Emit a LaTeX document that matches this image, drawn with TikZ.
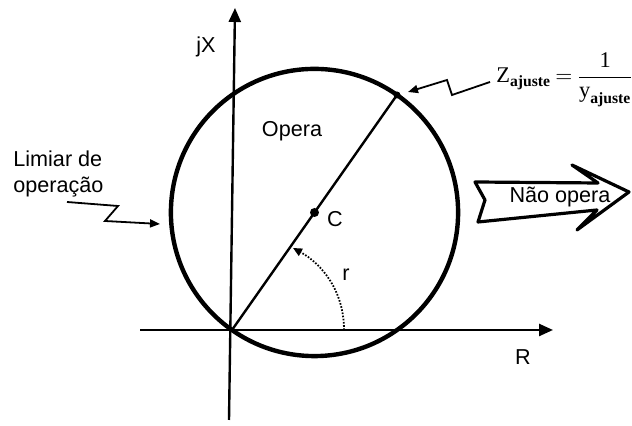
\documentclass[tikz,border=0pt]{standalone}
\usepackage{amsmath}
\usepackage{fontspec}
\setmainfont{Liberation Sans}
\newfontfamily\tmsfont{Liberation Serif}
\usetikzlibrary{
  arrows.meta,
  calc
}
\newcommand{\tms}[1]{\text{\tmsfont #1}}
\tikzset{
  axisline/.style={-{Triangle[length=7pt, width=6pt]}, line width=1.2pt},
  relaycircle/.style={line width=2.2pt},
  diamline/.style={line width=1.2pt},
  zigarrow/.style={-{Triangle[length=5pt, width=4pt]}, line width=0.9pt, line join=miter},
  dotarrow/.style={-{Triangle[length=4.5pt, width=4pt]}, line width=0.9pt, dash pattern=on 0.8pt off 0.8pt},
  notearrow/.style={line width=1.6pt, line join=round},
  dotmark/.style={circle, fill, inner sep=0pt, minimum size=4.5pt},
  lbl/.style={font=\fontsize{10.8}{13}\selectfont, inner sep=1pt},
  formula/.style={font=\fontsize{11.2}{13}\selectfont, inner sep=1pt}
}
\begin{document}
\begin{tikzpicture}[x=0.5pt, y=0.5pt]
  \useasboundingbox (0,0) rectangle (632,426);
  % eixos R e jX
  \coordinate (O) at (232,96);
  \coordinate (xl) at (140,96);
  \coordinate (xr) at (553,96);
  \coordinate (yb) at (229,6);
  \coordinate (yt) at (235,418);
  \draw[axisline] (xl) -- (xr);
  \draw[axisline] (yb) -- (yt);
  \node[lbl] (lR) at (523,69) {R};
  \node[lbl] (ljX) at (206,379) {jX};
  % circulo de operacao
  \coordinate (C) at (314.5,213.5);
  \coordinate (P) at (397,331);
  \draw[relaycircle] (C) circle[radius=143.6];
  \draw[diamline] (O) -- (P);
  \node[dotmark] (c) at (C) {};
  \node[dotmark, minimum size=3.5pt] (p) at (P) {};
  \node[lbl] (lC) at (335,207) {C};
  \node[lbl] (lOpera) at (292,295) {Opera};
  % raio r
  \coordinate (r0) at (344,96);
  \coordinate (r1) at (293,178);
  \draw[dotarrow] (r0) .. controls (344,135) and (322,162) .. (r1);
  \node[lbl] (lr) at (346,151) {r};
  % limiar de operacao
  \node[lbl, align=left, anchor=west] (lLim) at (11,252) {Limiar de\\operação};
  \coordinate (lz1) at (67,224);
  \coordinate (lz2) at (118,220);
  \coordinate (lz3) at (105,205);
  \coordinate (lz4) at (160,202);
  \draw[zigarrow] (lz1) -- (lz2) -- (lz3) -- (lz4);
  % impedancia de ajuste
  \node[formula, anchor=west] (lZ) at (494,346)
    {$\thickmuskip=3.5mu \tms{Z}_{\tms{\bfseries ajuste}} = \dfrac{\tms{1}}{\tms{y}_{\tms{\bfseries ajuste}}}$};
  \coordinate (zz1) at (490,344);
  \coordinate (zz2) at (452,331);
  \coordinate (zz3) at (447,346);
  \coordinate (zz4) at (408,334);
  \draw[zigarrow] (zz1) -- (zz2) -- (zz3) -- (zz4);
  % nao opera
  \draw[notearrow] (475,244) -- (598,243) -- (572,261) -- (629,234) -- (577,196)
    -- (597,216) -- (478,204) -- (485,226) -- cycle;
  \node[lbl] (lNao) at (560,229) {Não opera};
\end{tikzpicture}
\end{document}
